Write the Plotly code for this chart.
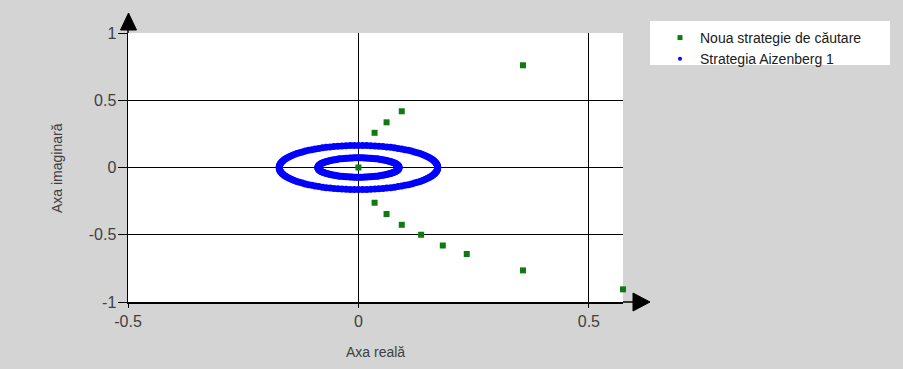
import plotly.graph_objects as go

# ---- data ----
new_x = [0.0, 0.035, 0.061, 0.094, 0.357, 0.035, 0.061, 0.094, 0.136, 0.183, 0.235, 0.357, 0.574]
new_y = [0.0, 0.258, 0.336, 0.418, 0.760, -0.262, -0.346, -0.426, -0.500, -0.580, -0.643, -0.765, -0.906]

outer_x = [0.1720, 0.1718, 0.1711, 0.1699, 0.1682, 0.1661, 0.1636, 0.1606, 0.1571, 0.1533, 0.1490, 0.1443, 0.1392, 0.1337, 0.1278,
           0.1216, 0.1151, 0.1082, 0.1011, 0.0937, 0.0860, 0.0781, 0.0700, 0.0616, 0.0532, 0.0445, 0.0358, 0.0269, 0.0180, 0.0090,
           0.0, -0.0090, -0.0180, -0.0269, -0.0358, -0.0445, -0.0532, -0.0616, -0.0700, -0.0781, -0.0860, -0.0937, -0.1011, -0.1082, -0.1151,
           -0.1216, -0.1278, -0.1337, -0.1392, -0.1443, -0.1490, -0.1533, -0.1571, -0.1606, -0.1636, -0.1661, -0.1682, -0.1699, -0.1711, -0.1718,
           -0.1720, -0.1718, -0.1711, -0.1699, -0.1682, -0.1661, -0.1636, -0.1606, -0.1571, -0.1533, -0.1490, -0.1443, -0.1392, -0.1337, -0.1278,
           -0.1216, -0.1151, -0.1082, -0.1011, -0.0937, -0.0860, -0.0781, -0.0700, -0.0616, -0.0532, -0.0445, -0.0358, -0.0269, -0.0180, -0.0090,
           0.0, 0.0090, 0.0180, 0.0269, 0.0358, 0.0445, 0.0532, 0.0616, 0.0700, 0.0781, 0.0860, 0.0937, 0.1011, 0.1082, 0.1151,
           0.1216, 0.1278, 0.1337, 0.1392, 0.1443, 0.1490, 0.1533, 0.1571, 0.1606, 0.1636, 0.1661, 0.1682, 0.1699, 0.1711, 0.1718]
outer_y = [0.0, 0.0086, 0.0171, 0.0257, 0.0341, 0.0424, 0.0507, 0.0588, 0.0667, 0.0745, 0.0820, 0.0893, 0.0964, 0.1032, 0.1097,
           0.1160, 0.1219, 0.1275, 0.1327, 0.1375, 0.1420, 0.1461, 0.1498, 0.1531, 0.1560, 0.1584, 0.1604, 0.1620, 0.1631, 0.1638,
           0.1640, 0.1638, 0.1631, 0.1620, 0.1604, 0.1584, 0.1560, 0.1531, 0.1498, 0.1461, 0.1420, 0.1375, 0.1327, 0.1275, 0.1219,
           0.1160, 0.1097, 0.1032, 0.0964, 0.0893, 0.0820, 0.0745, 0.0667, 0.0588, 0.0507, 0.0424, 0.0341, 0.0257, 0.0171, 0.0086,
           0.0, -0.0086, -0.0171, -0.0257, -0.0341, -0.0424, -0.0507, -0.0588, -0.0667, -0.0745, -0.0820, -0.0893, -0.0964, -0.1032, -0.1097,
           -0.1160, -0.1219, -0.1275, -0.1327, -0.1375, -0.1420, -0.1461, -0.1498, -0.1531, -0.1560, -0.1584, -0.1604, -0.1620, -0.1631, -0.1638,
           -0.1640, -0.1638, -0.1631, -0.1620, -0.1604, -0.1584, -0.1560, -0.1531, -0.1498, -0.1461, -0.1420, -0.1375, -0.1327, -0.1275, -0.1219,
           -0.1160, -0.1097, -0.1032, -0.0964, -0.0893, -0.0820, -0.0745, -0.0667, -0.0588, -0.0507, -0.0424, -0.0341, -0.0257, -0.0171, -0.0086]

inner_x = [0.0880, 0.0879, 0.0875, 0.0869, 0.0861, 0.0850, 0.0837, 0.0822, 0.0804, 0.0784, 0.0762, 0.0738, 0.0712, 0.0684, 0.0654,
           0.0622, 0.0589, 0.0554, 0.0517, 0.0479, 0.0440, 0.0400, 0.0358, 0.0315, 0.0272, 0.0228, 0.0183, 0.0138, 0.0092, 0.0046,
           0.0, -0.0046, -0.0092, -0.0138, -0.0183, -0.0228, -0.0272, -0.0315, -0.0358, -0.0400, -0.0440, -0.0479, -0.0517, -0.0554, -0.0589,
           -0.0622, -0.0654, -0.0684, -0.0712, -0.0738, -0.0762, -0.0784, -0.0804, -0.0822, -0.0837, -0.0850, -0.0861, -0.0869, -0.0875, -0.0879,
           -0.0880, -0.0879, -0.0875, -0.0869, -0.0861, -0.0850, -0.0837, -0.0822, -0.0804, -0.0784, -0.0762, -0.0738, -0.0712, -0.0684, -0.0654,
           -0.0622, -0.0589, -0.0554, -0.0517, -0.0479, -0.0440, -0.0400, -0.0358, -0.0315, -0.0272, -0.0228, -0.0183, -0.0138, -0.0092, -0.0046,
           0.0, 0.0046, 0.0092, 0.0138, 0.0183, 0.0228, 0.0272, 0.0315, 0.0358, 0.0400, 0.0440, 0.0479, 0.0517, 0.0554, 0.0589,
           0.0622, 0.0654, 0.0684, 0.0712, 0.0738, 0.0762, 0.0784, 0.0804, 0.0822, 0.0837, 0.0850, 0.0861, 0.0869, 0.0875, 0.0879]
inner_y = [0.0, 0.0038, 0.0075, 0.0113, 0.0150, 0.0186, 0.0222, 0.0258, 0.0293, 0.0327, 0.0360, 0.0392, 0.0423, 0.0453, 0.0482,
           0.0509, 0.0535, 0.0560, 0.0582, 0.0604, 0.0624, 0.0642, 0.0658, 0.0672, 0.0685, 0.0695, 0.0704, 0.0711, 0.0716, 0.0719,
           0.0720, 0.0719, 0.0716, 0.0711, 0.0704, 0.0695, 0.0685, 0.0672, 0.0658, 0.0642, 0.0624, 0.0604, 0.0582, 0.0560, 0.0535,
           0.0509, 0.0482, 0.0453, 0.0423, 0.0392, 0.0360, 0.0327, 0.0293, 0.0258, 0.0222, 0.0186, 0.0150, 0.0113, 0.0075, 0.0038,
           0.0, -0.0038, -0.0075, -0.0113, -0.0150, -0.0186, -0.0222, -0.0258, -0.0293, -0.0327, -0.0360, -0.0392, -0.0423, -0.0453, -0.0482,
           -0.0509, -0.0535, -0.0560, -0.0582, -0.0604, -0.0624, -0.0642, -0.0658, -0.0672, -0.0685, -0.0695, -0.0704, -0.0711, -0.0716, -0.0719,
           -0.0720, -0.0719, -0.0716, -0.0711, -0.0704, -0.0695, -0.0685, -0.0672, -0.0658, -0.0642, -0.0624, -0.0604, -0.0582, -0.0560, -0.0535,
           -0.0509, -0.0482, -0.0453, -0.0423, -0.0392, -0.0360, -0.0327, -0.0293, -0.0258, -0.0222, -0.0186, -0.0150, -0.0113, -0.0075, -0.0038]

x_tickvals = [-0.5, 0, 0.5]
x_ticktext = ["-0.5", "0", "0.5"]
y_tickvals = [-1, -0.5, 0, 0.5, 1]
y_ticktext = ["-1", "-0.5", "0", "0.5", "1"]

series_names = ["Noua strategie de căutare", "Strategia Aizenberg 1"]
x_title = "Axa reală"
y_title = "Axa imaginară"

GREEN = "#107a10"
BLUE = "#0000ff"
FONT = "Liberation Sans, Arial, sans-serif"

fig = go.Figure()
# real data traces
fig.add_trace(go.Scatter(x=outer_x + inner_x, y=outer_y + inner_y, mode="markers",
                         marker=dict(symbol="circle", size=7, color=BLUE),
                         showlegend=False, cliponaxis=False, hoverinfo="skip"))
fig.add_trace(go.Scatter(x=new_x, y=new_y, mode="markers",
                         marker=dict(symbol="square", size=6, color=GREEN),
                         showlegend=False, cliponaxis=False, hoverinfo="skip"))
# legend entries (small markers as in reference)
fig.add_trace(go.Scatter(x=[None], y=[None], mode="markers", name=series_names[0],
                         marker=dict(symbol="square", size=5, color=GREEN)))
fig.add_trace(go.Scatter(x=[None], y=[None], mode="markers", name=series_names[1],
                         marker=dict(symbol="circle", size=4, color=BLUE)))

L, R, T, B = 128, 280, 33, 67
W, H = 903, 369
pw, ph = W - L - R, H - T - B


def px(xp):
    return (xp - L) / pw


def py(yp):
    return (H - B - yp) / ph


shapes = []
# legend white box
shapes.append(dict(type="rect", xref="paper", yref="paper",
                   x0=px(650), x1=px(890), y0=py(65), y1=py(21),
                   fillcolor="white", line=dict(width=0), layer="above"))
# y-axis extension + arrow
shapes.append(dict(type="line", xref="paper", yref="paper", x0=0, x1=0, y0=1, y1=py(28),
                   line=dict(color="black", width=1.5)))
shapes.append(dict(type="path", xref="paper", yref="paper",
                   path=f"M {px(120.5)},{py(30)} L {px(136.5)},{py(30)} L {px(128.5)},{py(13)} Z",
                   fillcolor="black", line=dict(color="black", width=1)))
# x-axis extension + arrow
shapes.append(dict(type="line", xref="paper", yref="paper", x0=1, x1=px(634), y0=0, y1=0,
                   line=dict(color="black", width=1.5)))
shapes.append(dict(type="path", xref="paper", yref="paper",
                   path=f"M {px(633)},{py(293)} L {px(633)},{py(311)} L {px(650)},{py(302)} Z",
                   fillcolor="black", line=dict(color="black", width=1)))

annotations = [
    dict(text=x_title, xref="paper", yref="paper", x=px(375), y=py(352), showarrow=False,
         xanchor="center", yanchor="middle", font=dict(family=FONT, size=14, color="#404040")),
    dict(text=y_title, xref="paper", yref="paper", x=px(57), y=py(168), showarrow=False,
         textangle=-90, xanchor="center", yanchor="middle", font=dict(family=FONT, size=14, color="#404040")),
]

fig.update_layout(
    width=W, height=H,
    margin=dict(l=L, r=R, t=T, b=B, pad=0),
    paper_bgcolor="#d4d4d4",
    plot_bgcolor="white",
    font=dict(family=FONT, size=15, color="#404040"),
    shapes=shapes,
    annotations=annotations,
    legend=dict(x=px(660), y=py(22), xanchor="left", yanchor="top",
                bgcolor="rgba(0,0,0,0)", borderwidth=0,
                font=dict(family=FONT, size=14, color="#202020"),
                itemwidth=30, tracegroupgap=0),
    xaxis=dict(range=[-0.5, 0.574], tickvals=x_tickvals, ticktext=x_ticktext,
               showgrid=True, gridcolor="black", gridwidth=1.2,
               showline=True, linecolor="black", linewidth=1.5,
               ticks="outside", ticklen=4, tickcolor="black",
               zeroline=False, fixedrange=True,
               tickfont=dict(family=FONT, size=16, color="#404040")),
    yaxis=dict(range=[-1, 1], tickvals=y_tickvals, ticktext=y_ticktext,
               showgrid=True, gridcolor="black", gridwidth=1.2,
               showline=True, linecolor="black", linewidth=1.5,
               ticks="outside", ticklen=9, tickcolor="black", ticklabelstandoff=-2,
               zeroline=False, fixedrange=True,
               tickfont=dict(family=FONT, size=16, color="#404040")),
)

fig.write_html(
    "out.html",
    config={"displayModeBar": False, "staticPlot": True},
    post_script="document.body.style.margin='0';document.body.style.overflow='hidden';"
                "document.body.style.background='#d4d4d4';",
)
